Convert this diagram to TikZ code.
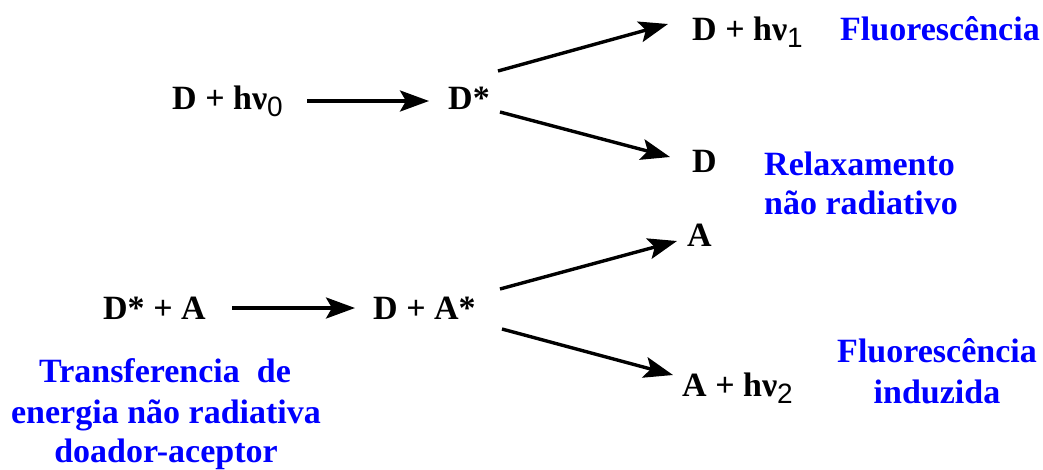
\documentclass[tikz,border=0pt]{standalone}
\usepackage{fontspec}
\setmainfont{Liberation Serif}
\newfontfamily\subfont{Liberation Sans}
\usetikzlibrary{arrows.meta}

% photon energy h nu with a lowered index
\newcommand{\hnu}[1]{hν\raisebox{-7pt}{\fontsize{28}{28}\selectfont\subfont\mdseries #1}}

\begin{document}
\begin{tikzpicture}[x=1pt,y=-1pt,
  species/.style={inner sep=0pt,anchor=base west,font=\fontsize{34}{40}\selectfont\bfseries},
  proc/.style={inner sep=0pt,text=procblue,font=\fontsize{34}{40}\selectfont\bfseries},
  react/.style={line width=3.4pt,-{Stealth[length=29pt,width=21pt,inset=6pt]}}]
\definecolor{procblue}{RGB}{0,0,255}
\useasboundingbox (0,0) rectangle (1043,469);

% donor excitation and decay
\node[species] (Dhv0) at (172,109) {D + \hnu{0}};
\node[species] (Dstar) at (448,109) {D*};
\node[species] (Dhv1) at (692,40) {D + \hnu{1}};
\node[species] (Dg) at (692,172) {D};
\node[proc,anchor=base west] (fluo) at (840,40) {Fluorescência};
\node[proc,anchor=base west] (relax1) at (764,175) {Relaxamento};
\node[proc,anchor=base west] (relax2) at (764,214) {não radiativo};

\draw[react] ([shift={(135,-8)}]Dhv0.base west) -- ([shift={(-19,-8)}]Dstar.base west);
\draw[react] ([shift={(50,-38)}]Dstar.base west) -- ([shift={(-24,-16)}]Dhv1.base west);
\draw[react] ([shift={(52,3)}]Dstar.base west) -- ([shift={(-22,-15)}]Dg.base west);

% donor-acceptor energy transfer
\node[species] (DsA) at (103,319) {D* + A};
\node[species] (DAs) at (373,319) {D + A*};
\node[species] (Ag) at (687,246) {A};
\node[species] (Ahv2) at (682,396) {A + \hnu{2}};
\node[proc,anchor=base] (ind1) at (937,362) {Fluorescência};
\node[proc,anchor=base] (ind2) at (937,403) {induzida};
\node[proc,anchor=base] (tr1) at (165,382) {Transferencia\ \ de};
\node[proc,anchor=base] (tr2) at (166,423) {energia não radiativa};
\node[proc,anchor=base] (tr3) at (166,462) {doador-aceptor};

\draw[react] ([shift={(129,-11)}]DsA.base west) -- ([shift={(-18,-11)}]DAs.base west);
\draw[react] ([shift={(127,-30)}]DAs.base west) -- ([shift={(-10,-5)}]Ag.base west);
\draw[react] ([shift={(129,10)}]DAs.base west) -- ([shift={(-9,-21)}]Ahv2.base west);
\end{tikzpicture}
\end{document}
